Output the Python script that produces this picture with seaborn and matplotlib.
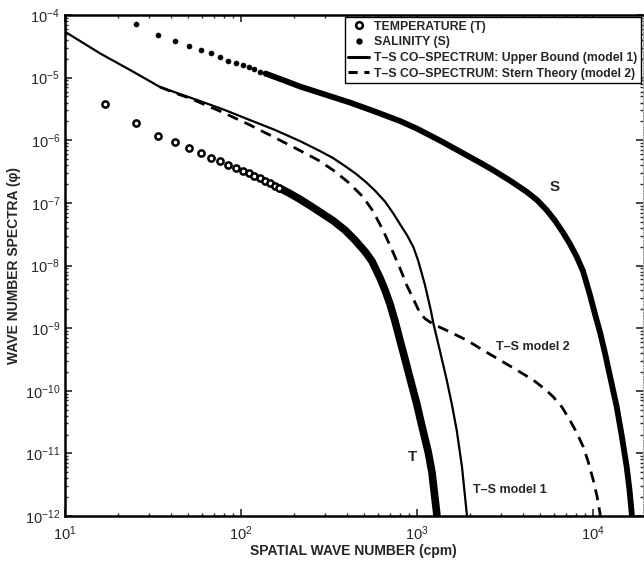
import numpy as np
import pandas as pd
import matplotlib
matplotlib.use("Agg")
import matplotlib.pyplot as plt
import seaborn as sns
from matplotlib.lines import Line2D

# ---------------- data ----------------
# Temperature spectrum: sparse open-circle estimates
t_k_pts = [16.9, 25.3, 33.8, 42.2, 50.8, 59.0, 67.6, 76.1, 84.8, 93.7,
           102, 111, 119, 128, 137, 146, 156, 165]
t_phi_pts = [3.8e-6, 1.9e-6, 1.18e-6, 9.25e-7, 7.4e-7, 6.3e-7, 5.3e-7, 4.66e-7,
             4.0e-7, 3.6e-7, 3.26e-7, 2.95e-7, 2.7e-7, 2.46e-7, 2.25e-7,
             2.04e-7, 1.87e-7, 1.74e-7]
# Temperature spectrum: dense part (appears as a thick line)
t_k_dense = [164.4, 189.8, 216.4, 246.6, 281.2, 333.4, 390, 444.4, 506.6, 555,
             616.6, 658, 702.6, 750, 800, 855, 912, 995.5, 1067, 1158, 1216,
             1294, 1303]
t_phi_dense = [1.74e-7, 1.41e-7, 1.14e-7, 9.06e-8, 7.13e-8, 5.21e-8, 3.67e-8,
               2.54e-8, 1.67e-8, 1.17e-8, 6.3e-9, 4.05e-9, 2.42e-9, 1.29e-9,
               6.43e-10, 3.2e-10, 1.59e-10, 6.27e-11, 2.72e-11, 1.05e-11,
               5.0e-12, 1.11e-12, 7.9e-13]

# Salinity spectrum: sparse filled-dot estimates
s_k_pts = [25.3, 33.8, 42.2, 50.8, 59.0, 67.6, 76.1, 84.8, 93.7, 102, 111, 119, 128, 137]
s_phi_pts = [7.18e-5, 4.8e-5, 3.89e-5, 3.24e-5, 2.76e-5, 2.44e-5, 2.16e-5, 1.87e-5,
             1.72e-5, 1.57e-5, 1.46e-5, 1.36e-5, 1.25e-5, 1.17e-5]
# Salinity spectrum: dense part
s_k_dense = [136.9, 173.2, 216.4, 300.1, 416, 577, 800, 995.5, 1351, 1755, 2280,
             2703, 3376, 4201, 4807, 5457, 6081, 6782, 7403, 8080, 8776, 9616,
             10266, 10960, 11700, 12490, 13640, 14610, 15540, 16130, 16590, 16700]
s_phi_dense = [1.17e-5, 9.16e-6, 7.21e-6, 5.37e-6, 4.0e-6, 2.87e-6, 2.03e-6,
               1.54e-6, 9.89e-7, 6.6e-7, 4.4e-7, 3.34e-7, 2.27e-7, 1.5e-7,
               1.11e-7, 7.67e-8, 5.21e-8, 3.3e-8, 2.2e-8, 1.38e-8, 8.14e-9,
               3.37e-9, 1.67e-9, 8.63e-10, 3.99e-10, 1.71e-10, 5.53e-11,
               1.82e-11, 6.08e-12, 2.58e-12, 1.11e-12, 7.9e-13]

# T-S co-spectrum, model 1 (upper bound)
m1_k = [10, 15.81, 24.43, 34.66, 45.02, 58.48, 81.1, 112.5, 156, 216.4, 281.2,
        333.4, 390, 444.4, 513, 577, 658, 733, 800, 877, 952, 1013, 1067, 1110,
        1155, 1201, 1238, 1351, 1476, 1581, 1681, 1802, 1916, 1931]
m1_phi = [5.41e-5, 2.44e-5, 1.24e-5, 7.08e-6, 5.47e-6, 4.23e-6, 3.03e-6, 2.10e-6,
          1.46e-6, 9.7e-7, 6.72e-7, 5.2e-7, 3.87e-7, 2.99e-7, 2.15e-7, 1.57e-7,
          1.05e-7, 6.8e-8, 4.58e-8, 3.06e-8, 1.99e-8, 1.22e-8, 7.29e-9, 4.87e-9,
          3.01e-9, 1.87e-9, 1.20e-9, 4.29e-10, 1.48e-10, 5.89e-11, 2.35e-11,
          6.03e-12, 1.11e-12, 7.9e-13]

# T-S co-spectrum, model 2 (Stern theory)
m2_k = [34.66, 42.17, 51.31, 75.97, 112.5, 156, 216.4, 273.8, 333.4, 405.5, 493,
        562, 641, 721.6, 800, 874, 948, 1040, 1110, 1186, 1266, 1443, 1916, 2371,
        2962, 3700, 4581, 5338, 5946, 6665, 7395, 8108, 8806, 9368, 10040,
        10536, 10960, 11030]
m2_phi = [7.08e-6, 5.68e-6, 4.67e-6, 2.92e-6, 1.75e-6, 1.10e-6, 6.84e-7, 4.83e-7,
          3.34e-7, 2.15e-7, 1.25e-7, 7.39e-8, 3.67e-8, 1.76e-8, 9.08e-9, 4.86e-9,
          3.01e-9, 1.74e-9, 1.42e-9, 1.25e-9, 1.12e-9, 9.46e-10, 6.43e-10,
          4.45e-10, 3.08e-10, 2.13e-10, 1.48e-10, 1.06e-10, 8.0e-11, 5.47e-11,
          3.39e-11, 2.1e-11, 1.27e-11, 7.5e-12, 3.73e-12, 2.07e-12, 1.11e-12,
          7.9e-13]

legend_labels = ["TEMPERATURE (T)", "SALINITY (S)",
                 "T\u2013S CO\u2013SPECTRUM: Upper Bound (model 1)",
                 "T\u2013S CO\u2013SPECTRUM: Stern Theory (model 2)"]

# ---------------- plotting ----------------
sns.set_style("ticks")
plt.rcParams['font.family'] = ['Liberation Sans', 'DejaVu Sans']
plt.rcParams['mathtext.fontset'] = 'custom'
plt.rcParams['mathtext.rm'] = 'Liberation Sans'
plt.rcParams['mathtext.it'] = 'Liberation Sans:italic'
plt.rcParams['mathtext.bf'] = 'Liberation Sans:bold'

fig = plt.figure(figsize=(6.44, 5.69), dpi=100)
ax = fig.add_axes([65/644, 1-516/569, 577.5/644, 501/569])

def mk(k, p):
    return pd.DataFrame({"k": k, "phi": p})

line_kw = dict(sort=False, estimator=None, solid_joinstyle="round",
               solid_capstyle="butt")
sns.lineplot(data=mk(m1_k, m1_phi), x="k", y="phi", ax=ax, color="black",
             lw=1.6, **line_kw)
sns.lineplot(data=mk(m2_k, m2_phi), x="k", y="phi", ax=ax, color="black",
             lw=2.0, sort=False, estimator=None, linestyle=(0, (4, 2.6)))

sns.lineplot(data=mk(t_k_dense, t_phi_dense), x="k", y="phi", ax=ax, color="black",
             lw=5.5, **line_kw)
sns.lineplot(data=mk(s_k_dense, s_phi_dense), x="k", y="phi", ax=ax, color="black",
             lw=4.2, **line_kw)

sns.scatterplot(data=mk(t_k_pts, t_phi_pts), x="k", y="phi", ax=ax, marker="o",
                s=20, facecolor="white", edgecolor="black", linewidth=1.8, zorder=5)
sns.scatterplot(data=mk(s_k_pts, s_phi_pts), x="k", y="phi", ax=ax, marker="o",
                s=14, color="black", edgecolor="black", linewidth=0.3, zorder=5)

ax.set_xscale("log")
ax.set_yscale("log")
ax.set_xlim(10, 10**(1 + 577.5/176))
ax.set_ylim(1e-12, 1e-4)

ax.set_xlabel("SPATIAL WAVE NUMBER (cpm)", fontsize=10, fontweight="bold", labelpad=1)
ax.set_ylabel("WAVE NUMBER SPECTRA (\u03c6)", fontsize=10, fontweight="bold", labelpad=3)

ax.tick_params(which="both", direction="in", top=True, right=True, labelsize=10.5)
ax.tick_params(which="major", length=5, width=1.2)
ax.tick_params(which="minor", length=2.5, width=1.0)
ax.tick_params(axis="x", pad=6)
for side in ["left", "bottom", "top"]:
    ax.spines[side].set_linewidth(1.8)
    ax.spines[side].set_color("black")
ax.spines["right"].set_linewidth(0.8)
ax.spines["right"].set_color("#999999")
ax.spines["right"].set_linestyle((0, (1, 1.5)))

ax.text(6080, 1.79e-7, "S", fontsize=11, fontweight="bold", ha="center", va="center")
ax.text(948, 8.7e-12, "T", fontsize=11, fontweight="bold", ha="center", va="center")
ax.text(3375, 2.58e-12, "T\u2013S model 1", fontsize=9, fontweight="bold",
        ha="center", va="center")
ax.text(4560, 5.0e-10, "T\u2013S model 2", fontsize=9, fontweight="bold",
        ha="center", va="center")

handles = [
    Line2D([], [], linestyle="none", marker="o", markersize=4.8,
           markerfacecolor="white", markeredgecolor="black", markeredgewidth=1.8),
    Line2D([], [], linestyle="none", marker="o", markersize=3.6, color="black"),
    Line2D([], [], color="black", lw=2.2),
    Line2D([], [], color="black", lw=2.2, linestyle=(0, (3, 2.2))),
]
leg = ax.legend(handles, legend_labels, loc="upper right",
                bbox_to_anchor=((641 - 65) / 577.5, (516 - 17) / 501),
                prop={"weight": "bold", "size": 8.8}, frameon=True, fancybox=False,
                edgecolor="black", framealpha=1, borderpad=0.3, labelspacing=0.3,
                handlelength=1.7, handletextpad=0.4, borderaxespad=0.0)
leg.get_frame().set_linewidth(1.0)

fig.savefig("out.png", dpi=100)
